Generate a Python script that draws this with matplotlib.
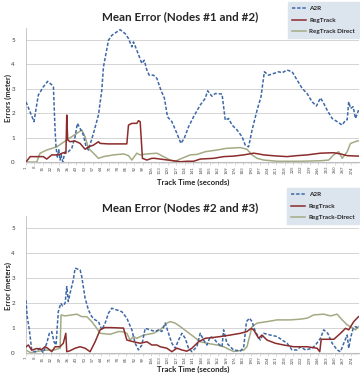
import matplotlib
matplotlib.use("Agg")
import matplotlib.pyplot as plt
from matplotlib.ticker import MultipleLocator, FixedLocator

# ---------------- data (time in seconds, error in meters) ----------------
top_a2r_x = [1, 4, 7.7, 11.3, 15.5, 19.2, 23, 24, 25.4, 26.2, 27.3, 28.5, 29.6, 30.5, 31.8,
             33.8, 36.5, 39.4, 42.2, 44.1, 46.4, 49.2, 51.4, 53.4, 57.6, 61.8, 64.6, 66, 70.2, 73,
             77.2, 80, 84.2, 87, 89.8, 91.2, 94, 98.2, 100.2, 102.4, 104.4, 108, 110.8, 114.2, 117.2,
             119.7, 123.4, 127.6, 131, 133.8, 137.4, 141.6, 147.2, 151.4, 153.4, 157, 159.8, 165.5, 168.2, 171,
             173.9, 178.1, 182.3, 185, 187.8, 190.7, 194.9, 198.2, 201, 204.6, 208.8, 213, 215.9, 220.1, 224.3,
             228.5, 232.7, 236.9, 241.1, 244.7, 248.1, 250.8, 253.7, 257.9, 262.1, 266.3, 269.1, 270.5, 271.8, 273.3,
             275.5, 277.5, 280]
top_a2r_y = [2.46, 2.1, 1.65, 2.73, 3.07, 3.3, 3.14, 3.07, 1.3, 0.62, 0.2, 0.5, 0.08, 0.3, 0.01,
             0.42, 0.42, 0.56, 1.03, 1.58, 1.37, 1.1, 0.62, 0.49, 1.17, 1.92, 2.94, 3.89, 4.98, 5.18,
             5.32, 5.41, 5.25, 5.05, 4.71, 4.91, 4.57, 4.03, 4.16, 3.76, 3.55, 3.55, 3.42, 2.94, 2.6,
             1.85, 1.65, 1.17, 0.76, 0.97, 1.44, 1.85, 2.33, 2.6, 2.91, 2.69, 2.8, 2.78, 1.71, 1.78,
             1.51, 1.31, 1.03, 0.69, 0.62, 1.31, 2.12, 2.67, 3.69, 3.55, 3.62, 3.69, 3.65, 3.76, 3.69,
             3.35, 3.01, 2.8, 2.46, 2.29, 2.62, 2.4, 2.12, 1.78, 1.65, 1.51, 1.71, 1.73, 2.46, 2.19,
             2.26, 1.78, 2.12]

top_reg_x = [1, 4.5, 15.5, 18.4, 22.6, 28, 32.3, 34.5, 35.2, 36, 38, 42, 46.4, 50.6, 53.4,
             57.6, 61.8, 63.2, 70, 78, 85.6, 87, 89.8, 94, 95.4, 96.8, 98.7, 102.4, 106.6, 109,
             113.6, 124.8, 130.4, 136, 141.6, 147.2, 158.4, 166.8, 175.2, 183.6, 192, 196.2, 200.4, 210, 220,
             228.5, 236.9, 248, 259, 264.9, 270.5, 280]
top_reg_y = [0, 0.22, 0.22, 0.12, 0.29, 0.29, 0.38, 0.36, 1.92, 0.9, 0.83, 0.86, 0.76, 0.52, 0.62,
             0.69, 0.83, 0.76, 0.74, 0.74, 0.74, 1.51, 1.58, 1.58, 1.69, 1.65, 0.15, 0.08, 0.15, 0.15,
             0.12, 0.05, 0.01, 0.03, 0.03, 0.12, 0.15, 0.22, 0.24, 0.29, 0.36, 0.33, 0.29, 0.25, 0.22,
             0.26, 0.29, 0.36, 0.38, 0.33, 0.26, 0.24]

top_dir_x = [1, 10, 12.8, 18.4, 26.8, 35.2, 43.6, 47.8, 50.6, 53.4, 57.6, 61.8, 66, 74.4, 82.8,
             87, 89.8, 94, 96.8, 102.4, 110.8, 116.4, 122, 126.2, 131.8, 138.8, 144.4, 151.4, 161.2, 169.6,
             180.8, 186.4, 190.7, 194.9, 200.4, 211.7, 231, 248, 255, 259, 263.4, 266.3, 270.5, 273.3, 278.9,
             280]
top_dir_y = [0, 0, 0.36, 0.49, 0.62, 0.9, 1.17, 1.31, 1.03, 0.56, 0.36, 0.15, 0.22, 0.29, 0.33,
             0.26, 0.08, 0.36, 0.29, 0.33, 0.36, 0.22, 0.08, 0.03, 0.15, 0.29, 0.31, 0.42, 0.49, 0.56,
             0.59, 0.52, 0.29, 0.15, 0.08, 0.03, 0.03, 0.05, 0.08, 0.29, 0.42, 0.15, 0.42, 0.76, 0.86,
             0.86]

bot_a2r_x = [1, 2, 3.8, 5.8, 8.6, 12.8, 15.5, 18.4, 20.6, 22.6, 24.5, 26.2, 28.1, 30.2, 31.8,
             33.8, 35.2, 36.5, 38, 40.7, 42.2, 46.4, 47.8, 50.6, 53.4, 56.2, 59, 61.8, 64.6, 67.4,
             70.2, 73, 77.2, 81.4, 85.6, 89.8, 92.6, 95.4, 98.2, 101, 105.2, 109.4, 112.2, 115, 117.8,
             120.6, 123.4, 126.2, 129, 131.8, 134.6, 137.4, 140.2, 144.4, 147.2, 150, 152.8, 155.6, 158.4, 161.8,
             165.5, 166.8, 169.6, 172.4, 175.2, 180.8, 183.6, 186, 188.5, 190.7, 193.4, 197.6, 200.4, 206, 211.7,
             215.9, 220.1, 224.3, 228.5, 231.3, 235.5, 241.1, 243.9, 248.1, 250.8, 254.2, 257.9, 262.1, 264.9, 267.6,
             270.5, 271.8, 273.3, 275.5, 277.5, 280]
bot_a2r_y = [2.11, 1.45, 0.92, 0.11, 0.03, 0.18, 0, 0.38, 0.78, 0.85, 0.44, 0.31, 1.65, 1.99, 1.88,
             1.99, 2.66, 2.06, 2.4, 2.93, 3.4, 3.33, 3.06, 2.19, 1.72, 1.45, 1.32, 1.25, 0.92, 1.19,
             1.59, 1.79, 1.72, 1.65, 1.39, 0.92, 0.38, 0.11, 0.31, 0.98, 0.92, 0.85, 0.92, 0.85, 1.19,
             0.78, 0.38, 0.18, 0.51, 0.78, 0.58, 0.18, 0.04, 0.24, 0.78, 0.51, 0.31, 0.65, 0.58, 0.38,
             0.24, 0.92, 0.38, 0.24, 0.11, 0.07, 0.2, 1.25, 1.39, 1.25, 0.85, 0.51, 0.78, 0.71, 0.65,
             0.51, 0.38, 0.11, 0.11, 0.24, 0.11, 0.18, 0.31, 0.58, 0.92, 0.78, 0.38, 0.11, 0.04, 0.38,
             0.71, 0.18, 0.58, 0.98, 1.05, 0.98]

bot_reg_x = [1, 3, 5.8, 10, 14.2, 17, 19.5, 22.6, 25.4, 29.6, 32.3, 34.4, 35.2, 38, 42.2,
             46.4, 50.6, 54.8, 59, 63.2, 67, 72, 82.8, 85.6, 91.2, 96.8, 102.4, 106.6, 110.8, 113.6,
             119.2, 123.4, 127.6, 131.8, 136, 140.2, 145.8, 151.4, 156, 164, 172.4, 180.8, 186.4, 189.8, 192,
             196.2, 199, 203.2, 210.2, 217.2, 225.6, 236.9, 245.3, 247.5, 248.7, 253.7, 259.3, 264.9, 269.1, 271.8,
             276, 280]
bot_reg_y = [0.24, 0.31, 0.1, 0.17, 0.13, 0.24, 0.17, 0.04, 0.24, 0.24, 0.38, 0.78, 0.04, 0.08, 0.18,
             0.24, 0.18, 0.04, 0.44, 0.92, 1.01, 1.01, 0.99, 0.51, 0.44, 0.38, 0.44, 0.31, 0.31, 0.24,
             0.18, 0.04, 0.18, 0.11, 0.06, 0.18, 0.44, 0.58, 0.6, 0.65, 0.71, 0.78, 0.85, 0.98, 0.92,
             0.58, 0.71, 0.51, 0.38, 0.31, 0.24, 0.24, 0.18, 0.04, 0.54, 0.54, 0.54, 0.78, 0.98, 0.92,
             1.25, 1.45]

bot_dir_x = [1, 5, 10, 17, 24, 29.6, 30.4, 33.8, 43.6, 47.8, 52, 56.2, 60.4, 63.2, 71.6,
             78.6, 81.4, 85.6, 88.4, 91.2, 94, 99.6, 108, 113.6, 119.2, 122, 126.2, 130.4, 136, 141.6,
             147.2, 152.8, 161.2, 166.8, 172.4, 175.2, 183.6, 186.4, 190.7, 194.9, 203.2, 211.7, 222.8, 231.3, 236.9,
             242.4, 250.8, 256.5, 262.1, 266.3, 270.5, 274.7, 277.5, 280]
bot_dir_y = [0.1, 0, 0.05, 0.1, 0.1, 0.18, 1.52, 1.48, 1.55, 1.45, 1.45, 1.25, 0.98, 0.78, 0.74,
             0.85, 0.85, 0.78, 0.51, 0.65, 0.58, 0.71, 0.78, 0.92, 1.19, 1.25, 1.19, 1.05, 0.85, 0.65,
             0.44, 0.38, 0.31, 0.24, 0.11, 0.05, 0.1, 0.24, 1.05, 1.19, 1.25, 1.32, 1.32, 1.35, 1.39,
             1.52, 1.55, 1.48, 1.55, 1.32, 1.12, 1.01, 0.92, 1.05]

x_tick_labels = list(range(1, 275, 7))
y_ticks = [0, 1, 2, 3, 4, 5]

titles = ["Mean Error (Nodes #1 and #2)", "Mean Error (Nodes #2 and #3)"]
ylabels = ["Errors (meter)", "Error (meters)"]
xlabel = "Track Time (seconds)"
legend_labels = [["A2R", "RegTrack", "RegTrack Direct"],
                 ["A2R", "RegTrack", "RegTrack-Direct"]]

# ---------------- styling ----------------
FONT = "Lato"
C_A2R = "#3E68A6"
C_REG = "#8C2B2B"
C_DIR = "#A3AB85"
GRID = "#D4D4D4"
AXC = "#BFBFBF"

W, H = 360, 378
fig = plt.figure(figsize=(W / 100, H / 100), dpi=100)

def frac_x(px):
    return px / W

def frac_y(py):
    return 1 - py / H

panels = [
    dict(top=27.5, bottom=162.0,
         data=[(top_a2r_x, top_a2r_y), (top_reg_x, top_reg_y), (top_dir_x, top_dir_y)],
         title_y=17, xlabel_y=182, ylabel_y=98, leg_top=2),
    dict(top=216.0, bottom=352.7,
         data=[(bot_a2r_x, bot_a2r_y), (bot_reg_x, bot_reg_y), (bot_dir_x, bot_dir_y)],
         title_y=208, xlabel_y=369, ylabel_y=286, leg_top=188),
]

left_px, right_px = 26.0, 358.5
for i, p in enumerate(panels):
    ax = fig.add_axes([frac_x(left_px), frac_y(p["bottom"]),
                       frac_x(right_px - left_px), (p["bottom"] - p["top"]) / H])
    (ax_x, ax_y), (rx, ry), (dx, dy) = p["data"]
    l1, = ax.plot(ax_x, ax_y, color=C_A2R, lw=1.1, ls=(0, (2.2, 1.2)), zorder=3)
    l2, = ax.plot(rx, ry, color=C_REG, lw=1.1, zorder=4)
    l3, = ax.plot(dx, dy, color=C_DIR, lw=1.1, zorder=2)
    ax.set_xlim(1, 280)
    ax.set_ylim(0, 5.5)
    ax.yaxis.set_major_locator(FixedLocator(y_ticks))
    ax.set_yticklabels([str(t) for t in y_ticks], fontsize=4.5, family=FONT, color="#404040")
    ax.xaxis.set_major_locator(FixedLocator(x_tick_labels))
    ax.set_xticklabels([str(t) for t in x_tick_labels], rotation=90, fontsize=3.2,
                       family=FONT, color="#505050")
    ax.xaxis.set_minor_locator(MultipleLocator(1))
    ax.tick_params(axis="x", which="major", length=2.0, width=0.4, color=AXC, pad=0.8)
    ax.tick_params(axis="x", which="minor", length=1.5, width=0.3, color=AXC)
    ax.tick_params(axis="y", length=0, pad=8)
    ax.grid(axis="y", color=GRID, lw=0.7)
    ax.set_axisbelow(True)
    for s in ["top", "right"]:
        ax.spines[s].set_visible(False)
    ax.spines["left"].set_color(AXC)
    ax.spines["left"].set_linewidth(0.6)
    ax.spines["bottom"].set_color(AXC)
    ax.spines["bottom"].set_linewidth(0.8)

    fig.text(0.5, frac_y(p["title_y"]), titles[i], ha="center", va="center",
             fontsize=8.4, fontweight="bold", family=FONT, color="#262626")
    fig.text(frac_x(193), frac_y(p["xlabel_y"]), xlabel, ha="center", va="center",
             fontsize=5.6, fontweight="bold", family=FONT, color="#262626")
    fig.text(frac_x(8), frac_y(p["ylabel_y"]), ylabels[i], ha="center", va="center",
             rotation=90, fontsize=5.6, fontweight="bold", family=FONT, color="#262626")

    leg = fig.legend([l1, l2, l3], legend_labels[i], loc="upper right",
                     bbox_to_anchor=(frac_x(359), frac_y(p["leg_top"])),
                     bbox_transform=fig.transFigure,
                     prop=dict(family=FONT, size=4.6, weight="bold"),
                     frameon=True, fancybox=False, framealpha=1,
                     facecolor="#DCE4EE", edgecolor="#DCE4EE",
                     handlelength=2.2, handletextpad=0.6, labelspacing=0.95,
                     borderpad=0.6, borderaxespad=0)
    for t in leg.get_texts():
        t.set_color("#262626")

fig.savefig("out.png", dpi=100)
